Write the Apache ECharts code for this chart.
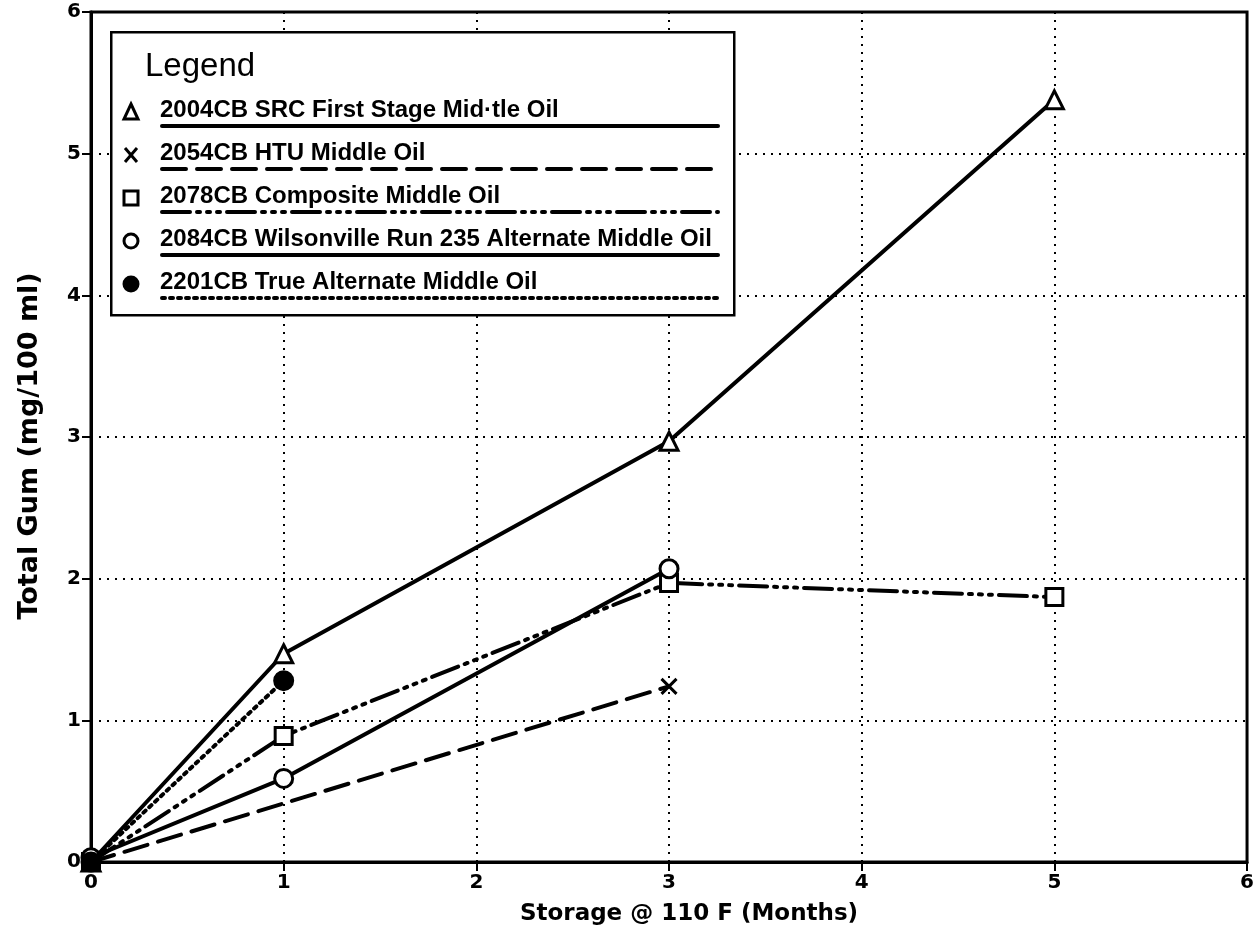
<!DOCTYPE html>
<html>
<head>
<meta charset="utf-8">
<script src="https://cdn.jsdelivr.net/npm/echarts@6/dist/echarts.min.js"></script>
<style>
  html, body { margin: 0; padding: 0; background: #fff; }
  #chart { width: 1257px; height: 943px; }
</style>
</head>
<body>
<div id="chart"></div>
<script>
// Storage months at which samples were measured, and total gum (mg/100 ml) per oil
const seriesNames = [
  '2004CB SRC First Stage Mid·tle Oil',
  '2054CB HTU Middle Oil',
  '2078CB Composite Middle Oil',
  '2084CB Wilsonville Run 235 Alternate Middle Oil',
  '2201CB True Alternate Middle Oil'
];
const months2004 = [0, 1, 3, 5];
const gum2004 = [0, 1.47, 2.97, 5.38];
const months2054 = [0, 3];
const gum2054 = [0, 1.24];
const months2078 = [0, 1, 3, 5];
const gum2078 = [0, 0.89, 1.97, 1.87];
const months2084 = [0, 1, 3];
const gum2084 = [0.03, 0.59, 2.07];
const months2201 = [0, 1];
const gum2201 = [0, 1.28];

const xTicks = ['0', '1', '2', '3', '4', '5', '6'];
const yTicks = ['0', '1', '2', '3', '4', '5', '6'];

const pair = (xs, ys) => xs.map((x, i) => [x, ys[i]]);

const FONT = '"Liberation Sans", Arial, sans-serif';
const WIDE = '"DejaVu Sans", Verdana, sans-serif';
const INK = '#000';

// line and marker styling per series
const crossPath = 'path://M0,0L10,10M10,0L0,10';
const styles = [
  { symbol: 'triangle', size: 18, fill: '#fff', dash: 'solid' },
  { symbol: crossPath, size: 15, fill: 'none', dash: [24, 11] },
  { symbol: 'rect', size: 17, fill: '#fff', dash: [28, 7, 3, 7, 3, 7, 3, 7] },
  { symbol: 'circle', size: 18, fill: '#fff', dash: 'solid' },
  { symbol: 'circle', size: 18, fill: INK, dash: [3, 5] }
];
const dataSets = [
  pair(months2004, gum2004),
  pair(months2054, gum2054),
  pair(months2078, gum2078),
  pair(months2084, gum2084),
  pair(months2201, gum2201)
];

const series = dataSets.map((d, i) => ({
  name: seriesNames[i],
  type: 'line',
  data: d,
  symbol: styles[i].symbol,
  symbolSize: styles[i].size,
  showAllSymbol: true,
  z: 3 + i,
  lineStyle: { color: INK, width: 4, type: styles[i].dash, cap: 'round' },
  itemStyle: {
    color: styles[i].fill === 'none' ? INK : styles[i].fill,
    borderColor: INK,
    borderWidth: 3
  },
  emphasis: { disabled: true },
  animation: false
}));

// Legend box drawn as graphics: symbol, label, and a line sample under the label
const legendLeft = 110, legendTop = 31, legendW = 623, legendH = 283;
const graphics = [
  {
    type: 'rect', left: legendLeft, top: legendTop, z: 10,
    shape: { width: legendW, height: legendH },
    style: { fill: '#fff', stroke: INK, lineWidth: 2.5 }
  },
  {
    type: 'text', left: 145, top: 50, z: 11,
    style: { text: 'Legend', font: '500 33px ' + FONT, fill: INK }
  }
];
for (let i = 0; i < seriesNames.length; i++) {
  const textY = 112 + i * 43;
  const lineY = 126 + i * 43;
  const sx = 131;
  const st = styles[i];
  if (st.symbol === 'circle') {
    graphics.push({
      type: 'circle', z: 11,
      shape: { cx: sx, cy: textY, r: 7 },
      style: { fill: st.fill, stroke: INK, lineWidth: 3 }
    });
  } else if (st.symbol === crossPath) {
    graphics.push({
      type: 'polyline', z: 11,
      shape: { points: [[sx - 6, textY - 7], [sx + 6, textY + 7]] },
      style: { stroke: INK, lineWidth: 3 }
    });
    graphics.push({
      type: 'polyline', z: 11,
      shape: { points: [[sx + 6, textY - 7], [sx - 6, textY + 7]] },
      style: { stroke: INK, lineWidth: 3 }
    });
  } else if (st.symbol === 'triangle') {
    graphics.push({
      type: 'polygon', z: 11,
      shape: { points: [[sx, textY - 8], [sx + 7, textY + 7], [sx - 7, textY + 7]] },
      style: { fill: '#fff', stroke: INK, lineWidth: 3 }
    });
  } else {
    graphics.push({
      type: 'rect', z: 11,
      shape: { x: sx - 7, y: textY - 7, width: 14, height: 14 },
      style: { fill: '#fff', stroke: INK, lineWidth: 3 }
    });
  }
  graphics.push({
    type: 'text', z: 11, left: 160, top: textY - 14,
    style: { text: seriesNames[i], font: 'bold 24px ' + FONT, fill: INK }
  });
  graphics.push({
    type: 'line', z: 11,
    shape: { x1: 162, y1: lineY, x2: 718, y2: lineY },
    style: {
      stroke: INK, lineWidth: 4, lineCap: 'round',
      lineDash: st.dash === 'solid' ? null : st.dash
    }
  });
}

const chart = echarts.init(document.getElementById('chart'), null, { renderer: 'canvas' });
chart.setOption({
  backgroundColor: '#fff',
  animation: false,
  grid: {
    left: 91, right: 6, top: 12, bottom: 81,
    show: true, borderColor: INK, borderWidth: 3, backgroundColor: 'transparent'
  },
  xAxis: {
    type: 'value', min: 0, max: 6, interval: 1,
    name: 'Storage @ 110 F (Months)',
    nameLocation: 'middle', nameGap: 41,
    nameTextStyle: {
      fontFamily: WIDE, fontWeight: 'bold', fontSize: 23, color: INK,
      padding: [0, 0, 0, 40]
    },
    axisLine: { show: true, lineStyle: { color: INK, width: 3 } },
    axisTick: { show: true, length: 9, lineStyle: { color: INK, width: 2 } },
    axisLabel: {
      margin: 11, fontFamily: WIDE, fontWeight: 'bold', fontSize: 20, color: INK,
      formatter: v => xTicks[Math.round(v)]
    },
    splitLine: { show: true, lineStyle: { color: INK, width: 2, type: [2, 6] } }
  },
  yAxis: {
    type: 'value', min: 0, max: 6, interval: 1,
    name: 'Total Gum (mg/100 ml)',
    nameLocation: 'middle', nameGap: 48,
    nameTextStyle: {
      fontFamily: WIDE, fontWeight: 'bold', fontSize: 27, color: INK,
      padding: [0, 18, 0, 0]
    },
    axisLine: { show: true, lineStyle: { color: INK, width: 3 } },
    axisTick: { show: true, length: 9, lineStyle: { color: INK, width: 2 } },
    axisLabel: {
      margin: 10, fontFamily: WIDE, fontWeight: 'bold', fontSize: 20, color: INK,
      formatter: v => yTicks[Math.round(v)]
    },
    splitLine: { show: true, lineStyle: { color: INK, width: 2, type: [2, 6] } }
  },
  series: series,
  graphic: graphics
});
</script>
</body>
</html>
